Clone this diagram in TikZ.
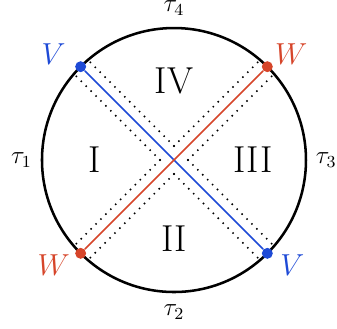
\documentclass[tikz,border=0pt]{standalone}
\usepackage{amsmath}
\usepackage{tikz}
\usetikzlibrary{
  positioning,
  calc
}
\definecolor{vblue}{RGB}{30, 74, 214}
\definecolor{wred}{RGB}{214, 69, 42}
\newcommand{\Rad}{2.2}
\newcommand{\Gap}{0.233}
\tikzset{
  % Aylana
  rimline/.style  = {line width=1.2pt, draw=black},
  % Diagonallar
  vline/.style    = {line width=0.75pt, draw=vblue},
  wline/.style    = {line width=0.75pt, draw=wred},
  dotline/.style  = {line width=1pt, line cap=round, dash pattern=on 0pt off 3.3pt},
  % Nuqtalar
  vdot/.style     = {circle, fill=vblue, inner sep=0pt, minimum size=5.2pt},
  wdot/.style     = {circle, fill=wred,  inner sep=0pt, minimum size=5.2pt},
  % Etiketlar
  ptlab/.style    = {font=\fontsize{13.5}{16}\selectfont, inner sep=1pt},
  reglab/.style   = {font=\fontsize{17.8}{21}\selectfont},
  taulab/.style   = {font=\fontsize{11.5}{14}\selectfont},
}
\begin{document}
\begin{tikzpicture}
  \useasboundingbox (-2.9,-2.8) rectangle (2.717,2.667);
  % Nuqtali chegaralar
  \begin{scope}
    \clip (0,0) circle (\Rad);
    \foreach \a in {0,90,180,270} {
      \draw[dotline] (\a:\Gap) -- +(\a+45:3);
      \draw[dotline] (\a:\Gap) -- +(\a-45:3);
    }
  \end{scope}
  % Aylana va chekka nuqtalar
  \draw[rimline] (0,0) circle (\Rad);
  \coordinate (top) at (90:\Rad);
  \coordinate (bot) at (270:\Rad);
  \coordinate (lft) at (180:\Rad);
  \coordinate (rgt) at (0:\Rad);
  % V va W nuqtalari
  \node[vdot] (V1) at (135:\Rad) {};
  \node[vdot] (V2) at (-45:\Rad) {};
  \node[wdot] (W1) at (45:\Rad) {};
  \node[wdot] (W2) at (225:\Rad) {};
  \draw[vline] (V1) -- (V2);
  \draw[wline] (W2) -- (W1);
  \node[ptlab, vblue] (lV1) at ([shift={(-0.45,0.217)}]V1.center) {$V$};
  \node[ptlab, vblue] (lV2) at ([shift={(0.417,-0.2)}]V2.center) {$V$};
  \node[ptlab, wred]  (lW1) at ([shift={(0.4,0.217)}]W1.center) {$W$};
  \node[ptlab, wred]  (lW2) at ([shift={(-0.45,-0.2)}]W2.center) {$W$};
  % Sohalar
  \node[reglab] (rI)   at (-1.317,0) {I};
  \node[reglab] (rII)  at (0,-1.317) {II};
  \node[reglab] (rIII) at (1.317,0) {III};
  \node[reglab] (rIV)  at (0,1.317) {IV};
  % Tau etiketlari
  \node[taulab, above=2.6pt of top] (t4) {$\tau_4$};
  \node[taulab, below=2.6pt of bot] (t2) {$\tau_2$};
  \node[taulab, left=1.2pt of lft]  (t1) {$\tau_1$};
  \node[taulab, right=1.2pt of rgt] (t3) {$\tau_3$};
\end{tikzpicture}
\end{document}
